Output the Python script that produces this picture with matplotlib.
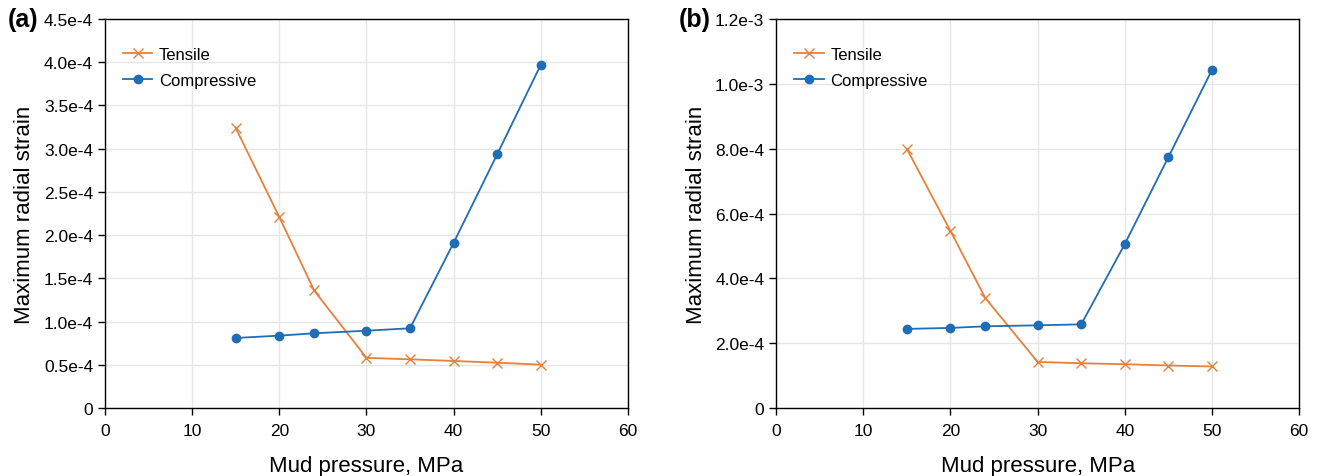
import matplotlib
matplotlib.use("Agg")
import matplotlib.pyplot as plt
from matplotlib.ticker import FixedLocator, FixedFormatter, MultipleLocator

plt.rcParams['font.family'] = ['Liberation Sans', 'DejaVu Sans']

pressure = [15, 20, 24, 30, 35, 40, 45, 50]
tensile_a = [3.24e-4, 2.21e-4, 1.36e-4, 0.58e-4, 0.563e-4, 0.544e-4, 0.524e-4, 0.501e-4]
compressive_a = [0.81e-4, 0.837e-4, 0.864e-4, 0.894e-4, 0.922e-4, 1.91e-4, 2.935e-4, 3.97e-4]
tensile_b = [7.99e-4, 5.46e-4, 3.39e-4, 1.42e-4, 1.38e-4, 1.35e-4, 1.31e-4, 1.28e-4]
compressive_b = [2.44e-4, 2.47e-4, 2.52e-4, 2.55e-4, 2.58e-4, 5.06e-4, 7.74e-4, 10.43e-4]

yticks_a = [0, 0.5e-4, 1.0e-4, 1.5e-4, 2.0e-4, 2.5e-4, 3.0e-4, 3.5e-4, 4.0e-4, 4.5e-4]
ylabels_a = ['0', '0.5e-4', '1.0e-4', '1.5e-4', '2.0e-4', '2.5e-4', '3.0e-4', '3.5e-4', '4.0e-4', '4.5e-4']
yticks_b = [0, 2.0e-4, 4.0e-4, 6.0e-4, 8.0e-4, 1.0e-3, 1.2e-3]
ylabels_b = ['0', '2.0e-4', '4.0e-4', '6.0e-4', '8.0e-4', '1.0e-3', '1.2e-3']

ORANGE = '#E8803A'
BLUE = '#1F6DB4'

fig = plt.figure(figsize=(13.2, 4.77), dpi=100)
panels = [
    (0.0795, 'a', tensile_a, compressive_a, yticks_a, ylabels_a),
    (0.588, 'b', tensile_b, compressive_b, yticks_b, ylabels_b),
]
for left, lab, ten, comp, yt, yl in panels:
    ax = fig.add_axes([left, 0.1426, 0.3962, 0.8154])
    ax.plot(pressure, ten, color=ORANGE, marker='x', markersize=7, markeredgewidth=1.0,
            linewidth=1.3, label='Tensile')
    ax.plot(pressure, comp, color=BLUE, marker='o', markersize=6,
            linewidth=1.3, label='Compressive')
    ax.set_xlim(0, 60)
    ax.set_ylim(yt[0], yt[-1])
    ax.xaxis.set_major_locator(MultipleLocator(10))
    ax.yaxis.set_major_locator(FixedLocator(yt))
    ax.yaxis.set_major_formatter(FixedFormatter(yl))
    ax.grid(True, color='#e6e6e6', linewidth=1.0)
    ax.set_axisbelow(True)
    for sp in ax.spines.values():
        sp.set_color('black')
        sp.set_linewidth(1.0)
    ax.tick_params(axis='both', direction='out', length=5, width=1, labelsize=12.5,
                   colors='black')
    ax.tick_params(axis='x', pad=6)
    ax.set_xlabel('Mud pressure, MPa', fontsize=16, labelpad=12)
    ax.set_ylabel('Maximum radial strain', fontsize=16, labelpad=6)
    ax.legend(loc='upper left', frameon=False, fontsize=12, bbox_to_anchor=(0.0, 0.975),
              handlelength=1.75, handletextpad=0.4, borderaxespad=0.7, labelspacing=0.65)
    fig.text(left - 0.074, 0.958, '(%s)' % lab, fontsize=18, fontweight='bold',
             ha='left', va='center')

fig.savefig('out.png', dpi=100)
